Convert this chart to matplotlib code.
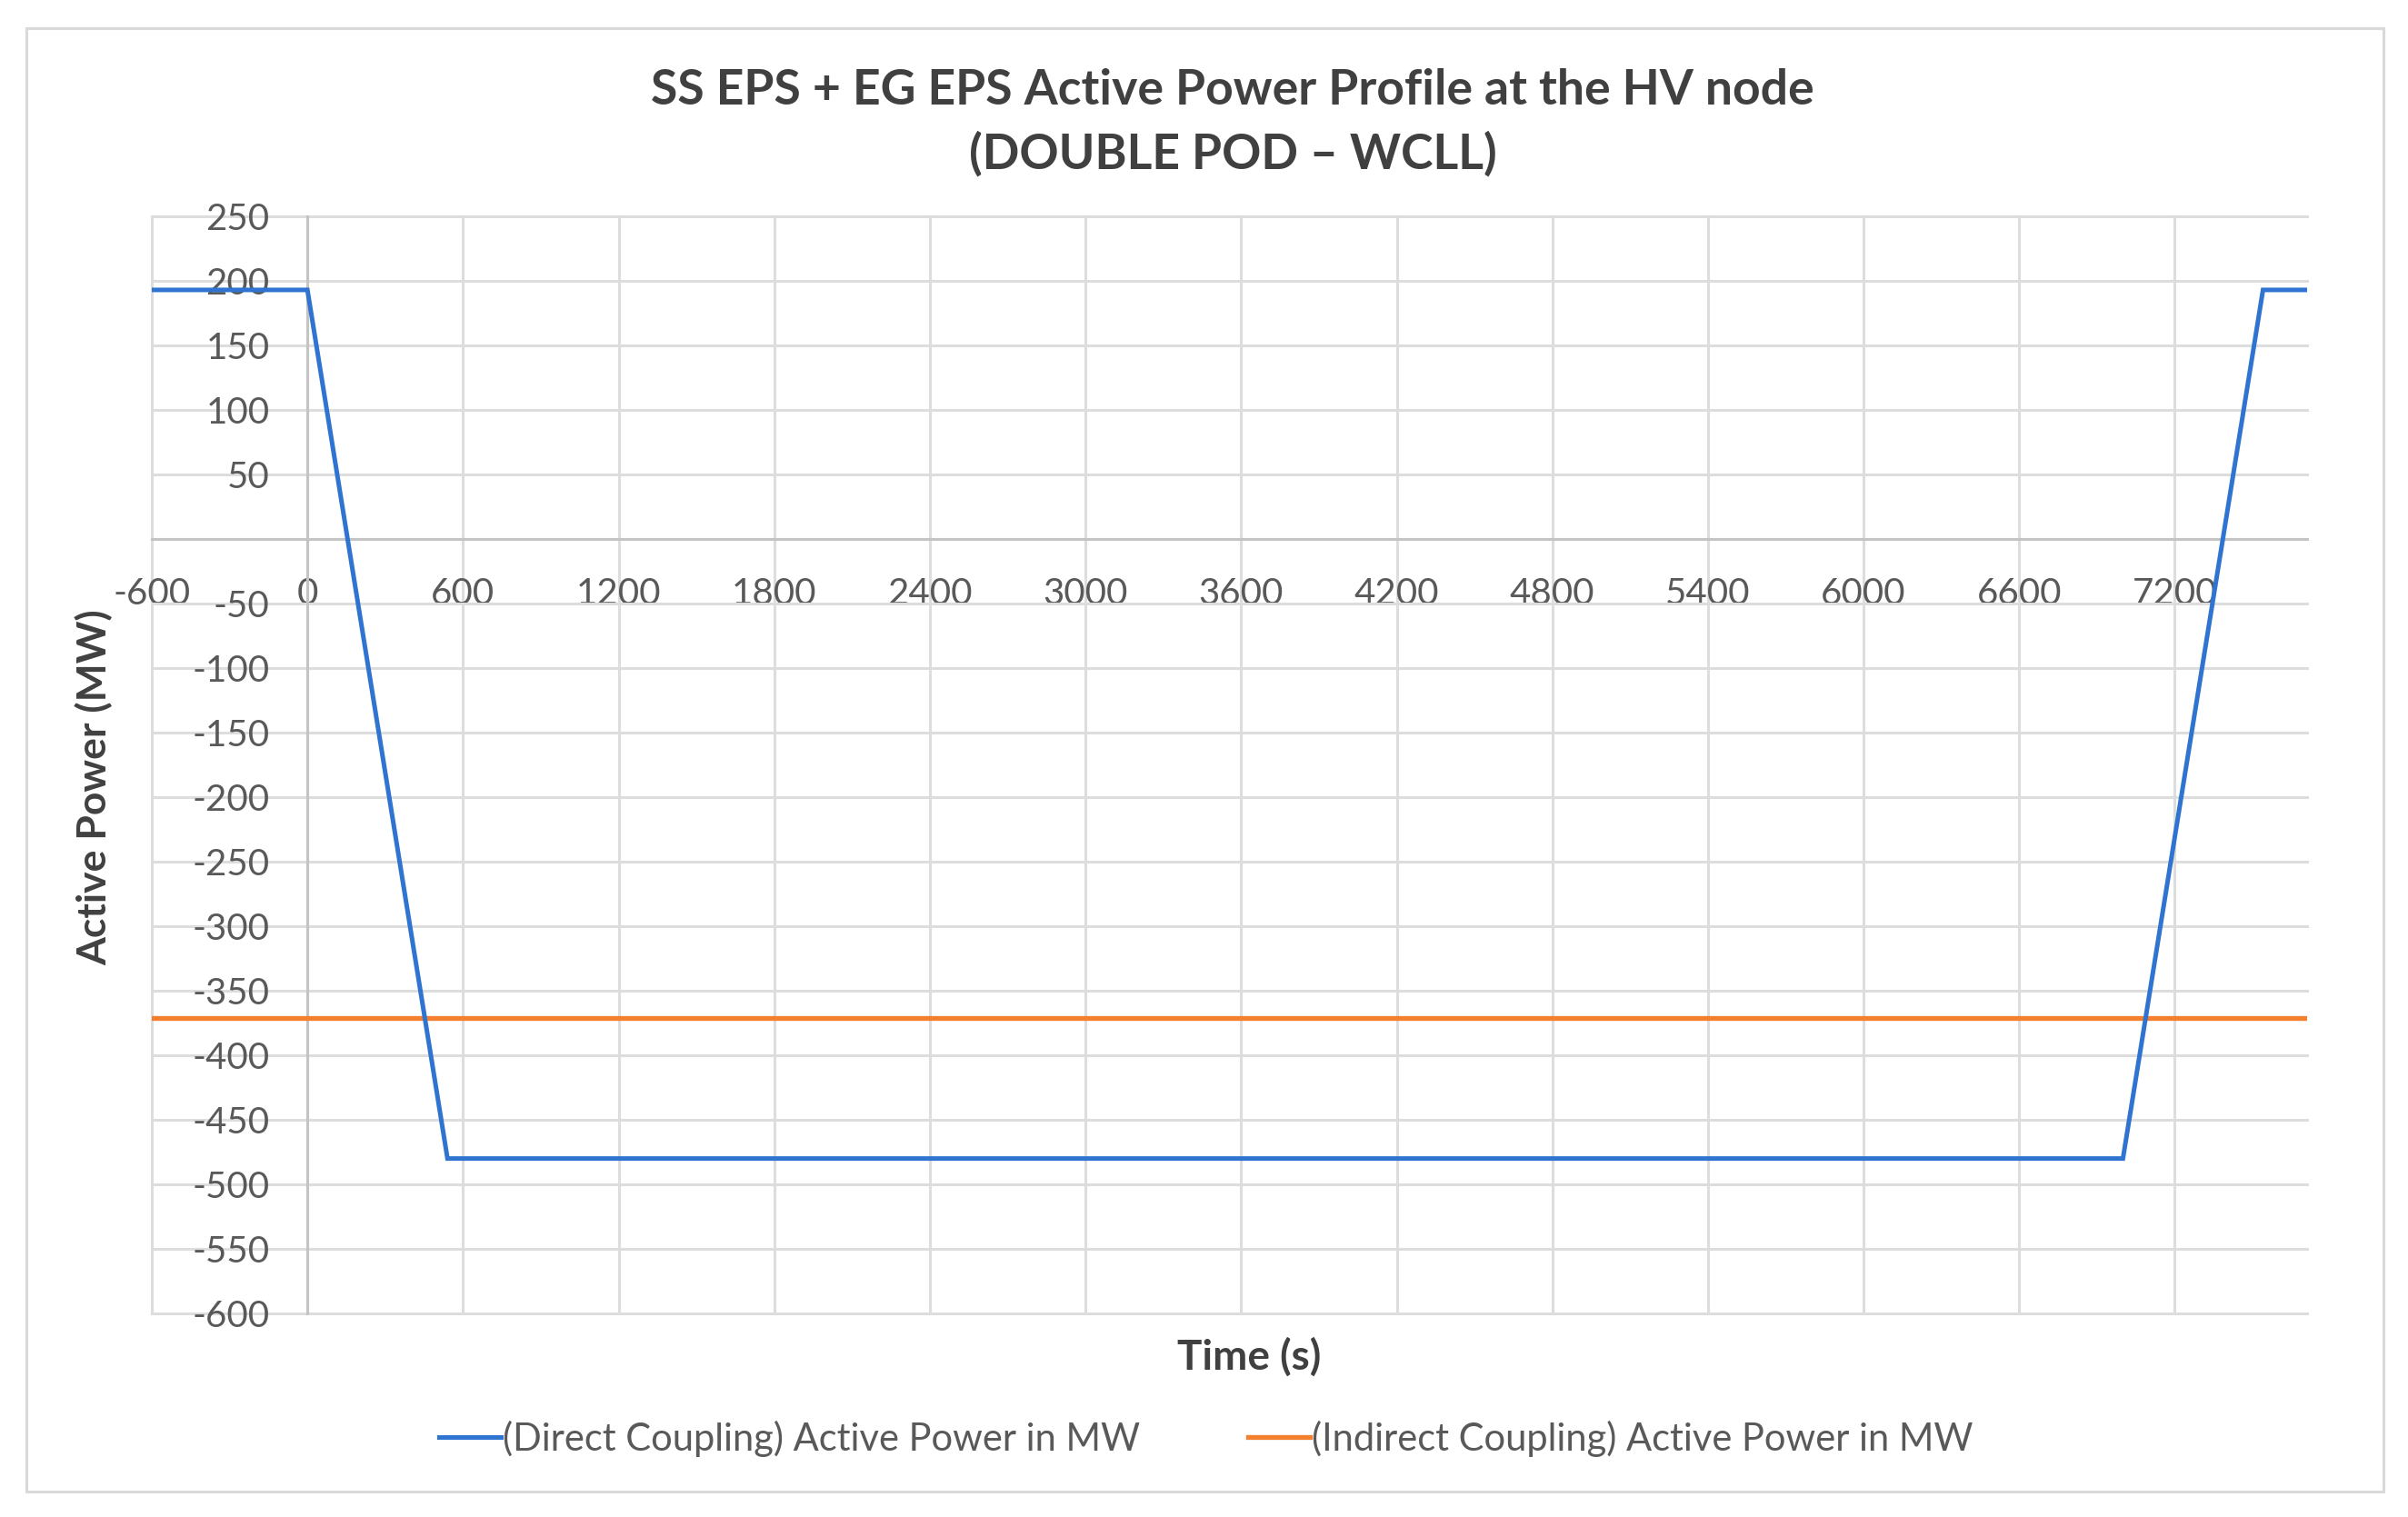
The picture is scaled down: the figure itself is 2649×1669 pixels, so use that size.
import matplotlib
matplotlib.use('Agg')
import matplotlib.pyplot as plt
from matplotlib.patches import Rectangle

# ---- data ----
time_s = [-600, 0, 540, 7000, 7540, 7710]
direct_mw = [193, 193, -480, -480, 193, 193]
indirect_time = [-600, 7710]
indirect_mw = [-371, -371]
x_ticks = list(range(-600, 7201, 600))
y_ticks = list(range(-600, 251, 50))
series_names = ['(Direct Coupling) Active Power in MW',
                '(Indirect Coupling) Active Power in MW']
title_text = 'SS EPS + EG EPS Active Power Profile at the HV node\n(DOUBLE POD \u2013 WCLL)'

plt.rcParams['font.family'] = ['Lato', 'DejaVu Sans']
plt.rcParams['axes.unicode_minus'] = False

W, H = 2649, 1669
fig = plt.figure(figsize=(W / 100, H / 100), dpi=100)
L, R, T, B = 167, 2538, 238, 1445
ax = fig.add_axes([L / W, 1 - B / H, (R - L) / W, (B - T) / H])

ax.plot(time_s, direct_mw, color='#2E74D0', lw=3.6, solid_joinstyle='miter',
        label=series_names[0], zorder=4)
ax.plot(indirect_time, indirect_mw, color='#F47F2E', lw=3.8,
        label=series_names[1], zorder=3)

ax.set_xlim(-600, 7710)
ax.set_ylim(-600, 250)
ax.set_xticks(x_ticks)
ax.set_xticklabels([str(v) for v in x_ticks])
ax.set_yticks(y_ticks)
ax.set_yticklabels(['' if v == 0 else str(v) for v in y_ticks])

for s in ['top', 'right']:
    ax.spines[s].set_visible(False)
ax.spines['left'].set_position(('data', 0))
ax.spines['bottom'].set_position(('data', 0))
for s in ['left', 'bottom']:
    ax.spines[s].set_color('#C4C4C4')
    ax.spines[s].set_linewidth(2.2)

ax.grid(True, color='#DDDDDD', lw=2.2)
ax.set_axisbelow(True)
for l in ax.get_xgridlines() + ax.get_ygridlines():
    l.set_clip_on(False)

ax.tick_params(axis='both', length=0, labelsize=29, labelcolor='#595959')
ax.tick_params(axis='x', pad=30)
ax.tick_params(axis='y', pad=30)

ax.set_xlabel('Time (s)', fontsize=33, fontweight='bold', color='#404040')
ax.xaxis.set_label_coords((1374 - L) / (R - L), (B - 1493) / (B - T))
ax.xaxis.label.set_va('center')
ax.set_ylabel('Active Power (MW)', fontsize=32, fontweight='bold', color='#404040')
ax.yaxis.set_label_coords((103 - L) / (R - L), (B - 866) / (B - T))
ax.yaxis.label.set_va('center')

fig.text(1356 / W, 1 - 135 / H, title_text, ha='center', va='center',
         fontsize=38.5, fontweight='bold', color='#404040', linespacing=1.47)

fig.legend(loc='center', bbox_to_anchor=(1327 / W, 1 - 1583 / H), ncol=2,
           frameon=False, fontsize=30, labelcolor='#595959',
           handlelength=1.63, handletextpad=0.05, columnspacing=2.85)

fig.add_artist(Rectangle((29 / W, 1 - 1641 / H), (2622 - 29) / W, (1641 - 31) / H,
                         transform=fig.transFigure, fill=False,
                         edgecolor='#D9D9D9', lw=2.2))

fig.savefig('out.png', dpi=100)
